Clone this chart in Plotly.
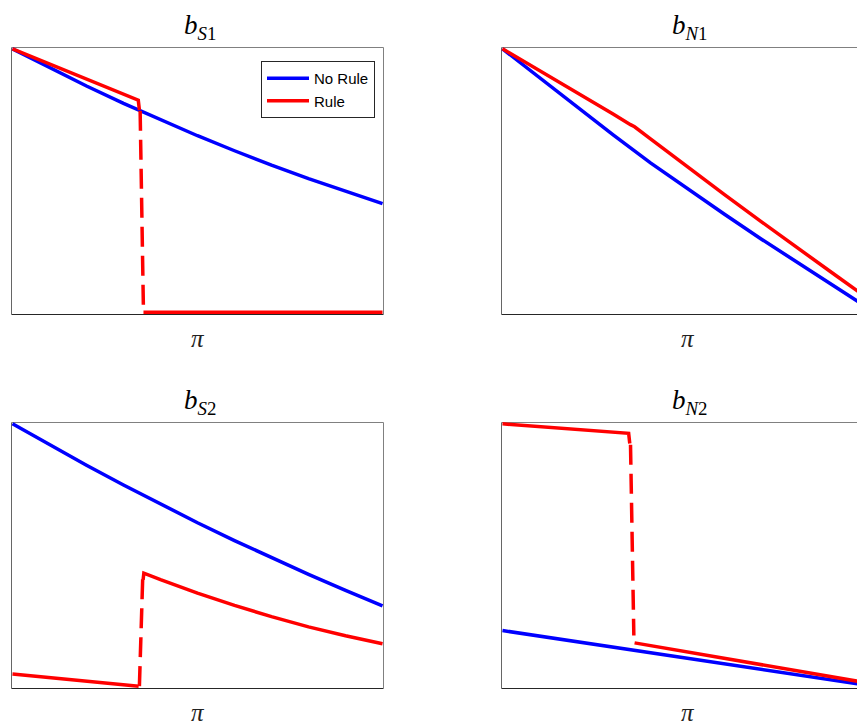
import plotly.graph_objects as go

# ---------------- data ----------------
pi_grid = [0.0, 0.1, 0.2, 0.3, 0.4, 0.5, 0.6, 0.7, 0.8, 0.9, 1.0]

# b_S1
bS1_norule = [1.0, 0.928, 0.859, 0.793, 0.730, 0.670, 0.613, 0.558, 0.507, 0.458, 0.412]
bS1_rule_pre_x = [0.0, 0.340, 0.343]
bS1_rule_pre_y = [1.0, 0.805, 0.768]
bS1_rule_jump_x = [0.345, 0.354]
bS1_rule_jump_y = [0.765, 0.0]
bS1_rule_post_x = [0.354, 1.0]
bS1_rule_post_y = [0.0, 0.0]

# b_N1
bN1_norule = [1.0, 0.89, 0.78, 0.672, 0.567, 0.468, 0.372, 0.277, 0.186, 0.097, 0.005]
bN1_rule_x = [0.0, 0.1, 0.2, 0.3, 0.346, 0.357, 0.4, 0.5, 0.6, 0.7, 0.8, 0.9, 1.0]
bN1_rule_y = [1.0, 0.918, 0.835, 0.752, 0.712, 0.704, 0.658, 0.551, 0.446, 0.343, 0.24, 0.14, 0.04]

# b_S2
bS2_norule = [1.0, 0.920, 0.842, 0.767, 0.694, 0.623, 0.555, 0.489, 0.426, 0.365, 0.306]
bS2_rule_pre_x = [0.0, 0.341]
bS2_rule_pre_y = [0.046, 0.0]
bS2_rule_jump_x = [0.343, 0.352]
bS2_rule_jump_y = [0.0, 0.415]
bS2_rule_post_x = [0.353, 0.355, 0.4, 0.5, 0.6, 0.7, 0.8, 0.9, 1.0]
bS2_rule_post_y = [0.405, 0.431, 0.406, 0.355, 0.308, 0.265, 0.226, 0.192, 0.162]

# b_N2
bN2_norule_x = [0.0, 1.0]
bN2_norule_y = [0.212, 0.0]
bN2_rule_pre_x = [0.0, 0.341, 0.344]
bN2_rule_pre_y = [1.0, 0.964, 0.925]
bN2_rule_jump_x = [0.346, 0.355]
bN2_rule_jump_y = [0.92, 0.193]
bN2_rule_post_x = [0.357, 1.0]
bN2_rule_post_y = [0.165, 0.009]

titles = ["<i>b</i><sub><i>S</i>1</sub>", "<i>b</i><sub><i>N</i>1</sub>",
          "<i>b</i><sub><i>S</i>2</sub>", "<i>b</i><sub><i>N</i>2</sub>"]
xlabel = "<i>π</i>"
legend_names = ["No Rule", "Rule"]

# ---------------- layout geometry ----------------
OFF = 8                      # default page margin of the html body
W, H = 865 - OFF, 724 - OFF
BLUE, RED = "#0000ff", "#ff0000"
LW = 3.5
DASH = "20px,9px"

# pixel boxes in screen coords: (left, right, top, bottom); right column runs past the canvas
boxes = [(11, 384, 47, 314), (501, 874, 47, 314),
         (11, 384, 422, 688), (501, 874, 422, 688)]

fig = go.Figure()

def px_x(p):
    return (p - OFF) / W

def px_y(p):
    return 1 - (p - OFF) / H

pad = 0.004
axis_names = []
for i, (l, r, t, b) in enumerate(boxes):
    n = "" if i == 0 else str(i + 1)
    axis_names.append(("x" + n, "y" + n))
    vis_r = min(r, W + OFF)
    full_w = r - l
    span = 1 + 2 * pad
    xr = [-pad, -pad + span * (vis_r - l) / full_w]
    fig.layout["xaxis" + n] = dict(domain=[px_x(l), px_x(vis_r)], range=xr,
                                   anchor="y" + n, showticklabels=False, ticks="",
                                   showgrid=False, zeroline=False, showline=False,
                                   fixedrange=True)
    fig.layout["yaxis" + n] = dict(domain=[px_y(b), px_y(t)], range=[-0.007, 1.007],
                                   anchor="x" + n, showticklabels=False, ticks="",
                                   showgrid=False, zeroline=False, showline=False,
                                   fixedrange=True)

def add(i, x, y, color, dash="solid", name=None, show=False):
    xa, ya = axis_names[i]
    fig.add_trace(go.Scatter(x=x, y=y, mode="lines", xaxis=xa, yaxis=ya,
                             line=dict(color=color, width=LW, dash=dash),
                             name=name, showlegend=show, hoverinfo="skip"))

# b_S1
add(0, pi_grid, bS1_norule, BLUE, name=legend_names[0], show=True)
add(0, bS1_rule_pre_x, bS1_rule_pre_y, RED, name=legend_names[1], show=True)
add(0, bS1_rule_jump_x, bS1_rule_jump_y, RED, dash=DASH)
add(0, bS1_rule_post_x, bS1_rule_post_y, RED)
# b_N1
add(1, pi_grid, bN1_norule, BLUE)
add(1, bN1_rule_x, bN1_rule_y, RED)
# b_S2
add(2, pi_grid, bS2_norule, BLUE)
add(2, bS2_rule_pre_x, bS2_rule_pre_y, RED)
add(2, bS2_rule_jump_x, bS2_rule_jump_y, RED, dash=DASH)
add(2, bS2_rule_post_x, bS2_rule_post_y, RED)
# b_N2
add(3, bN2_norule_x, bN2_norule_y, BLUE)
add(3, bN2_rule_pre_x, bN2_rule_pre_y, RED)
add(3, bN2_rule_jump_x, bN2_rule_jump_y, RED, dash=DASH)
add(3, bN2_rule_post_x, bN2_rule_post_y, RED)

shapes = []
annotations = []
for i, (l, r, t, b) in enumerate(boxes):
    L, R, T, B = l + 0.5, r - 0.5, t + 0.5, b + 0.5
    segs = [((L, B), (R, B), "#262626"), ((L, T), (L, B), "#666666"),
            ((L, T), (R, T), "#808080"), ((R, T), (R, B), "#808080")]
    for (x0, y0), (x1, y1), c in segs:
        shapes.append(dict(type="line", xref="paper", yref="paper",
                           x0=px_x(x0), y0=px_y(y0), x1=px_x(x1), y1=px_y(y1),
                           line=dict(color=c, width=1), layer="below"))
    cx = (l + r) / 2
    annotations.append(dict(text=titles[i], x=px_x(cx + 2), y=px_y(t - 20),
                            xref="paper", yref="paper", showarrow=False,
                            xanchor="center", yanchor="middle",
                            font=dict(family="Liberation Serif", size=27, color="#000")))
    annotations.append(dict(text=xlabel, x=px_x(cx), y=px_y(b + 24),
                            xref="paper", yref="paper", showarrow=False,
                            xanchor="center", yanchor="middle",
                            font=dict(family="Liberation Serif", size=25, color="#222")))

fig.update_layout(
    width=W, height=H, margin=dict(l=0, r=0, t=0, b=0),
    paper_bgcolor="white", plot_bgcolor="white",
    shapes=shapes, annotations=annotations,
    legend=dict(x=px_x(375), y=px_y(61), xanchor="right", yanchor="top",
                bgcolor="white", bordercolor="#262626", borderwidth=1,
                font=dict(family="Liberation Sans", size=15, color="#000"),
                itemwidth=42, tracegroupgap=0),
)

fig.write_html("out.html")
